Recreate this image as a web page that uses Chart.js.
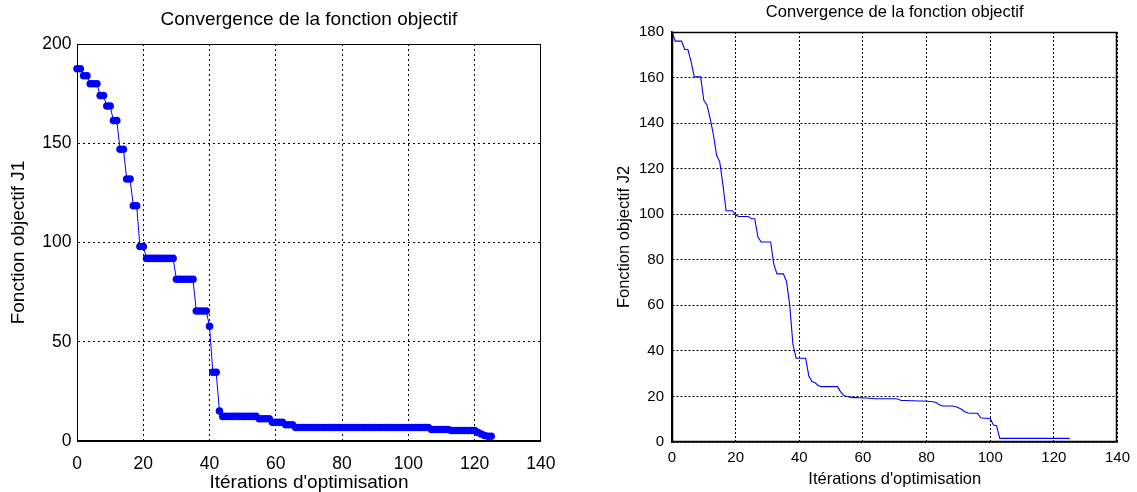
<!DOCTYPE html>
<html><head><meta charset="utf-8">
<script src="https://cdn.jsdelivr.net/npm/chart.js@4/dist/chart.umd.min.js"></script>
<style>
html,body{margin:0;padding:0;background:#fff;width:1137px;height:492px;overflow:hidden}
canvas{position:absolute;top:0}
#c1{left:0}
#c2{left:568px}
</style></head><body>
<canvas id="c1" width="568" height="492"></canvas>
<canvas id="c2" width="569" height="492"></canvas>
<script>
// ---- data ----
const chartTitle = "Convergence de la fonction objectif";
const xAxisTitle = "Itérations d'optimisation";
const yTitleJ1 = "Fonction objectif J1";
const yTitleJ2 = "Fonction objectif J2";
const xTicks = [0, 20, 40, 60, 80, 100, 120, 140];
const yTicksJ1 = [0, 50, 100, 150, 200];
const yTicksJ2 = [0, 20, 40, 60, 80, 100, 120, 140, 160, 180];

const iterationsJ1 = Array.from({length: 126}, (_, i) => i);
const valuesJ1 = [
  187.5,187.5,184,184,180,180,180,174,174,168.8,
  168.8,161.4,161.4,147,147,132,132,118.5,118.5,98,
  98,92,92,92,92,92,92,92,92,92,
  81.5,81.5,81.5,81.5,81.5,81.5,65.5,65.5,65.5,65.5,
  57.8,34.6,34.6,15.1,12.4,12.4,12.4,12.4,12.4,12.4,
  12.4,12.4,12.4,12.4,12.4,11.2,11.2,11.2,11.2,9.4,
  9.4,9.4,9.4,8.2,8.2,8.2,6.8,6.8,6.8,6.8,
  6.8,6.8,6.8,6.8,6.8,6.8,6.8,6.8,6.8,6.8,
  6.8,6.8,6.8,6.8,6.8,6.8,6.8,6.8,6.8,6.8,
  6.8,6.8,6.8,6.8,6.8,6.8,6.8,6.8,6.8,6.8,
  6.8,6.8,6.8,6.8,6.8,6.8,6.8,5.8,5.8,5.8,
  5.8,5.8,5.8,5.3,5.3,5.3,5.3,5.3,5.3,5.3,
  5.3,4.3,3.5,2.8,2.4,2.4
];

const iterationsJ2 = Array.from({length: 126}, (_, i) => i);
const valuesJ2 = [
  180,176,176,176,172.3,172.3,167,160.3,160.3,160.3,
  150,148,142,135,126,123,113,101.5,101.5,101.5,
  99.5,99,99,99,99,98,98,90,87.8,87.8,
  87.8,87.8,78,73.8,73.8,73.8,70.5,60,43,36.8,
  36.8,36.8,36.8,29,26.5,26,24.7,24.3,24.3,24.3,
  24.3,24.3,24.3,22,20.4,20,19.7,19.5,19.5,19.4,
  19.3,19.3,19.2,19.1,19,19,19,19,19,19,
  19,18.9,18.2,18.2,18.2,18.1,18.1,18,18,18,
  17.9,17.8,17.7,17.3,16.3,15.8,15.8,15.8,15.8,15.6,
  15,14.4,13.3,12.7,12.6,12.6,12.6,10.6,10.4,10.4,
  10.3,7.5,7.2,1.6,1.6,1.6,1.6,1.6,1.6,1.6,
  1.6,1.6,1.6,1.6,1.6,1.6,1.6,1.6,1.6,1.6,
  1.6,1.6,1.6,1.6,1.6,1.6
];

const FONT = "'Liberation Sans', Arial, sans-serif";
const BLUE = "#0000ff";

const boxPlugin = {
  id: 'box',
  afterDraw(chart, args, opts) {
    const {ctx, chartArea: a} = chart;
    ctx.save();
    ctx.strokeStyle = '#000';
    ctx.lineWidth = opts.width || 1;
    const l = Math.round(a.left) + 0.5, t = Math.round(a.top) + 0.5;
    const r = Math.round(a.right) - 0.5, b = Math.round(a.bottom) - 0.5;
    ctx.strokeRect(l, t, r - l, b - t);
    ctx.restore();
  }
};

function build(canvasId, cfg) {
  const tickSet = (arr) => (scale) => { scale.ticks = arr.map(v => ({value: v})); };
  new Chart(document.getElementById(canvasId), {
    type: 'line',
    data: {
      labels: cfg.labels,
      datasets: [{
        data: cfg.values,
        borderColor: BLUE,
        backgroundColor: BLUE,
        borderWidth: cfg.lineWidth,
        pointRadius: cfg.pointRadius,
        pointBackgroundColor: BLUE,
        pointBorderColor: BLUE,
        pointBorderWidth: 0,
        tension: 0,
        fill: false,
        clip: 5
      }]
    },
    options: {
      responsive: false,
      devicePixelRatio: 1,
      animation: false,
      events: [],
      layout: {padding: {left: 0, right: cfg.padRight, top: 0, bottom: 0}},
      plugins: {
        legend: {display: false},
        tooltip: {enabled: false},
        title: {display: false},
        box: {width: cfg.boxWidth}
      },
      scales: {
        x: {
          type: 'linear', min: xTicks[0], max: xTicks[xTicks.length - 1],
          afterBuildTicks: tickSet(xTicks),
          ticks: {color: '#000', font: {family: FONT, size: cfg.tickSize}, padding: cfg.xTickPad, maxRotation: 0, autoSkip: false},
          grid: {color: '#000', lineWidth: 1, drawTicks: false},
          border: {display: true, color: '#000', width: cfg.boxWidth, dash: cfg.dash},
          title: {display: true, text: xAxisTitle, color: '#000',
            font: {family: FONT, size: cfg.labelSize, lineHeight: 1},
            padding: {top: 0, bottom: cfg.xTitlePadBottom}},
          afterFit: (s) => { s.height = cfg.xAxisHeight; }
        },
        top: {
          type: 'linear', position: 'top', axis: 'x',
          min: xTicks[0], max: xTicks[xTicks.length - 1],
          ticks: {display: false},
          grid: {display: false, drawTicks: false},
          border: {display: false},
          title: {display: true, text: chartTitle, color: '#000',
            font: {family: FONT, size: cfg.titleSize, lineHeight: 1},
            padding: {top: cfg.titlePadTop, bottom: 0}},
          afterFit: (s) => { s.height = cfg.topHeight; }
        },
        y: {
          type: 'linear', min: cfg.yTicks[0], max: cfg.yTicks[cfg.yTicks.length - 1],
          afterBuildTicks: tickSet(cfg.yTicks),
          ticks: {color: '#000', font: {family: FONT, size: cfg.tickSize}, padding: cfg.yTickPad, autoSkip: false},
          grid: {color: '#000', lineWidth: 1, drawTicks: false},
          border: {display: true, color: '#000', width: cfg.boxWidth, dash: cfg.dash},
          title: {display: true, text: cfg.yTitle, color: '#000',
            font: {family: FONT, size: cfg.labelSize, lineHeight: 1},
            padding: {top: cfg.yTitlePadTop, bottom: 0}},
          afterFit: (s) => { s.width = cfg.yAxisWidth; }
        }
      }
    },
    plugins: [boxPlugin]
  });
}

build('c1', {
  labels: iterationsJ1, values: valuesJ1, pointRadius: 3.8, lineWidth: 1,
  yTicks: yTicksJ1, yTitle: yTitleJ1,
  titleSize: 19, titlePadTop: 10.5, topHeight: 44,
  tickSize: 17.5, labelSize: 19,
  xTickPad: 12.5, xTitlePadBottom: 0, xAxisHeight: 51,
  yTickPad: 5.5, yTitlePadTop: 9.5, yAxisWidth: 77,
  padRight: 27, boxWidth: 1, dash: [2, 3]
});

build('c2', {
  labels: iterationsJ2, values: valuesJ2, pointRadius: 0, lineWidth: 1.1,
  yTicks: yTicksJ2, yTitle: yTitleJ2,
  titleSize: 16.5, titlePadTop: 4.5, topHeight: 32,
  tickSize: 15, labelSize: 16.5,
  xTickPad: 7, xTitlePadBottom: 4.75, xAxisHeight: 50,
  yTickPad: 8, yTitlePadTop: 47.75, yAxisWidth: 104,
  padRight: 18, boxWidth: 1.5, dash: [2, 2]
});
</script>
</body></html>
